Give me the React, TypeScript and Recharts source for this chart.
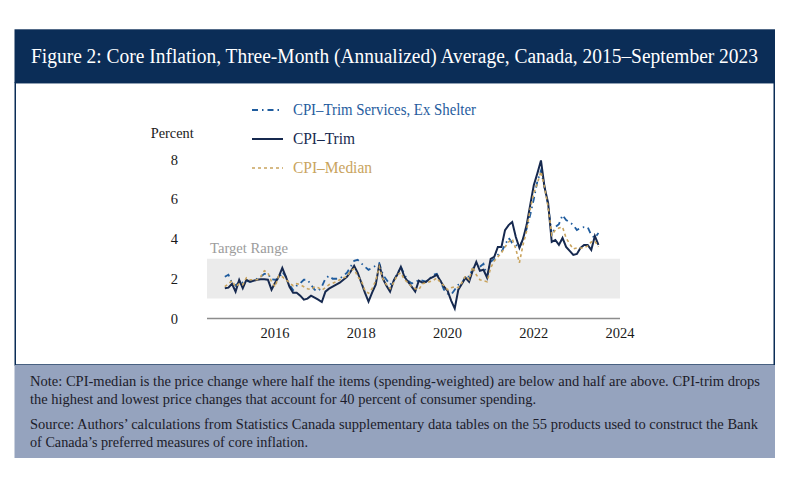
import { LineChart, Line, XAxis, YAxis, ReferenceArea } from "recharts";

// monthly observations, first point Nov 2014 (as placed on the axis)
const START_YEAR = 2014;
const START_MONTH = 11;

const trimServices = [
  2.1, 2.2, 1.8, 1.65, 1.85, 1.8, 1.9, 1.85, 1.9, 2.0, 2.1, 2.25,
  2.25, 1.97, 1.95, 1.98, 2.35, 2.1, 1.7, 1.43, 1.65, 1.77, 1.95, 1.95,
  1.7, 1.45, 1.38, 1.6, 2.0, 2.15, 2.0, 2.0, 2.0, 2.15, 2.3, 2.6,
  2.9, 2.95, 2.78, 2.6, 2.45, 2.55, 2.65, 2.78, 2.2, 1.95, 1.7, 1.9,
  2.25, 2.6, 2.2, 1.9, 1.77, 1.8, 1.95, 1.9, 1.85, 2.0, 2.2, 2.25,
  1.9, 1.45, 1.25, 1.2, 1.45, 1.7, 1.75, 2.15, 2.1, 2.5, 2.75, 2.6,
  2.75, 2.15, 2.85, 3.0, 3.2, 3.35, 3.7, 4.05, 3.8, 3.7, 3.55, 4.0,
  4.5, 5.2, 6.0, 6.9, 7.45, 6.6, 5.7, 4.2, 4.6, 4.75, 5.2, 4.95,
  4.85, 4.7, 4.45, 4.55, 4.6, 4.6, 4.2, 4.05, 4.3,
];

const trim = [
  1.52, 1.55, 1.75, 1.35, 1.94, 1.52, 1.94, 1.85, 1.9, 1.95, 1.97, 1.98,
  1.95, 1.45, 1.8, 2.1, 2.55, 2.1, 1.6, 1.3, 1.3, 1.15, 0.95, 1.0,
  1.15, 1.05, 0.95, 0.83, 1.35, 1.5, 1.6, 1.7, 1.8, 1.95, 2.1, 2.35,
  2.65, 2.3, 1.8, 1.3, 0.85, 1.3, 1.7, 2.72, 2.0, 1.65, 1.35, 1.9,
  2.2, 2.6, 2.1, 1.85, 1.6, 1.35, 1.9, 1.8, 1.85, 2.0, 2.1, 2.2,
  1.9, 1.6, 1.4, 0.9, 0.5, 1.45, 1.75, 2.05, 1.85, 2.4, 2.85, 2.4,
  2.45, 2.05, 3.0, 3.1, 3.6, 3.6, 4.45, 4.7, 4.85, 4.1, 3.55, 4.0,
  4.7, 5.7, 6.7, 7.3, 7.95, 6.6, 5.8, 3.85, 3.95, 3.7, 4.05, 3.6,
  3.4, 3.2, 3.25, 3.55, 3.7, 3.7, 3.45, 4.15, 3.7,
];

const median = [
  1.6, 1.75, 1.9, 1.6, 1.75, 1.7, 2.05, 1.95, 1.95, 1.95, 2.1, 2.4,
  2.3, 1.85, 1.6, 2.15, 2.1, 1.95, 1.8, 1.65, 1.75, 1.7, 1.6, 1.5,
  1.45, 1.6, 1.55, 1.43, 1.55, 1.7, 1.77, 1.85, 1.95, 2.05, 2.1, 2.4,
  2.5, 2.1, 1.9, 1.4, 1.27, 1.5, 1.9, 2.6, 2.0, 1.7, 1.5, 1.8,
  2.2, 2.3, 1.95, 1.8, 1.6, 1.5, 1.45, 1.75, 1.8, 1.85, 1.9, 2.05,
  1.8, 1.65, 1.45, 1.55, 1.6, 1.55, 1.8, 2.15, 1.95, 2.6, 2.2, 1.95,
  1.9, 1.85, 2.55, 2.9, 3.1, 3.3, 3.6, 3.85, 4.0, 3.5, 2.8, 3.7,
  4.4, 5.5, 6.3, 6.8, 7.4, 6.6, 5.6, 4.2, 4.45, 4.55, 4.6, 4.05,
  3.75, 3.5, 3.55, 3.55, 3.55, 3.65, 3.85, 3.9, 3.6,
];

const yearTicks = [2016, 2018, 2020, 2022, 2024];
const percentTicks = [0, 2, 4, 6, 8];
const targetRange = [1, 3];

const SERIES = [
  { key: "services", name: "CPI–Trim Services, Ex Shelter", color: "#1f5c9e", dash: "6 4 1.5 4", width: 1.8, legendW: 183 },
  { key: "trim", name: "CPI–Trim", color: "#16294f", dash: undefined, width: 2, legendW: 62 },
  { key: "median", name: "CPI–Median", color: "#c9a45e", dash: "3 3", width: 1.6, legendW: 79 },
];

const TITLE = "Figure 2: Core Inflation, Three-Month (Annualized) Average, Canada, 2015–September 2023";
const NOTES = [
  { text: "Note: CPI-median is the price change where half the items (spending-weighted) are below and half are above. CPI-trim drops", y: 386, w: 730 },
  { text: "the highest and lowest price changes that account for 40 percent of consumer spending.", y: 404, w: 506 },
  { text: "Source: Authors’ calculations from Statistics Canada supplementary data tables on the 55 products used to construct the Bank", y: 429, w: 728 },
  { text: "of Canada’s preferred measures of core inflation.", y: 446.5, w: 278 },
];

const data = trim.map((_, i) => ({
  t: START_YEAR + (START_MONTH - 1 + i) / 12,
  services: trimServices[i],
  trim: trim[i],
  median: median[i],
}));

const FONT = "'Liberation Serif', 'DejaVu Serif', serif";
const NAVY = "#0b2d57";

function Frame() {
  return (
    <svg width={800} height={491} style={{ position: "absolute", left: 0, top: 0 }}>
      <rect x={14.5} y={29.3} width={760.5} height={53.4} fill={NAVY} />
      <rect x={15.25} y={82.7} width={759} height={282.3} fill="#fff" stroke={NAVY} strokeWidth={1.5} />
      <rect x={14.5} y={365} width={760.5} height={93} fill="#95a3be" />
      <text x={31} y={62.7} fill="#fff" fontFamily={FONT} fontSize={20} textLength={727} lengthAdjust="spacingAndGlyphs">
        {TITLE}
      </text>
      {NOTES.map((n) => (
        <text key={n.y} x={30} y={n.y} fill="#1c1c2a" fontFamily={FONT} fontSize={15} textLength={n.w} lengthAdjust="spacingAndGlyphs">
          {n.text}
        </text>
      ))}
      <text x={150.7} y={138} fill="#1a1a1a" fontFamily={FONT} fontSize={15} textLength={43} lengthAdjust="spacingAndGlyphs">
        Percent
      </text>
      {SERIES.map((s, i) => {
        const y = 110 + i * 29;
        return (
          <g key={s.key}>
            <line x1={252} x2={283} y1={y} y2={y} stroke={s.color} strokeWidth={s.width} strokeDasharray={s.dash} />
            <text x={293} y={y + 4.5} fill={s.color} fontFamily={FONT} fontSize={16} textLength={s.legendW} lengthAdjust="spacingAndGlyphs">
              {s.name}
            </text>
          </g>
        );
      })}
    </svg>
  );
}

function TargetLabel({ viewBox }: any) {
  return (
    <text x={viewBox.x + 3} y={viewBox.y - 6} fill="#9c9c9c" fontFamily={FONT} fontSize={15} textLength={78} lengthAdjust="spacingAndGlyphs">
      Target Range
    </text>
  );
}

export default function App() {
  const tickStyle = { fill: "#1a1a1a", fontSize: 14.5, fontFamily: FONT };
  return (
    <div style={{ position: "absolute", left: 0, top: 0, width: 800, height: 491, background: "#fff" }}>
      <Frame />
      <div style={{ position: "absolute", left: 0, top: 0 }}>
        <LineChart width={800} height={491} data={data} margin={{ top: 139.6, right: 180, bottom: 142.5, left: 147 }}>
          <XAxis
            type="number"
            dataKey="t"
            domain={[2014.42, 2024]}
            ticks={yearTicks}
            allowDataOverflow
            height={30}
            tickLine={false}
            tickSize={0}
            tickMargin={9}
            axisLine={{ stroke: "#8c8c8c", strokeWidth: 1.5 }}
            tick={tickStyle}
          />
          <YAxis
            domain={[0, 9]}
            ticks={percentTicks}
            width={60}
            axisLine={false}
            tickLine={false}
            tickSize={0}
            tickMargin={29}
            tick={tickStyle}
          />
          <ReferenceArea y1={targetRange[0]} y2={targetRange[1]} fill="#ebebeb" fillOpacity={1} stroke="none" label={<TargetLabel />} />
          {SERIES.map((s) => (
            <Line
              key={s.key}
              type="linear"
              dataKey={s.key}
              name={s.name}
              stroke={s.color}
              strokeWidth={s.width}
              strokeDasharray={s.dash}
              dot={false}
              isAnimationActive={false}
            />
          ))}
        </LineChart>
      </div>
    </div>
  );
}
